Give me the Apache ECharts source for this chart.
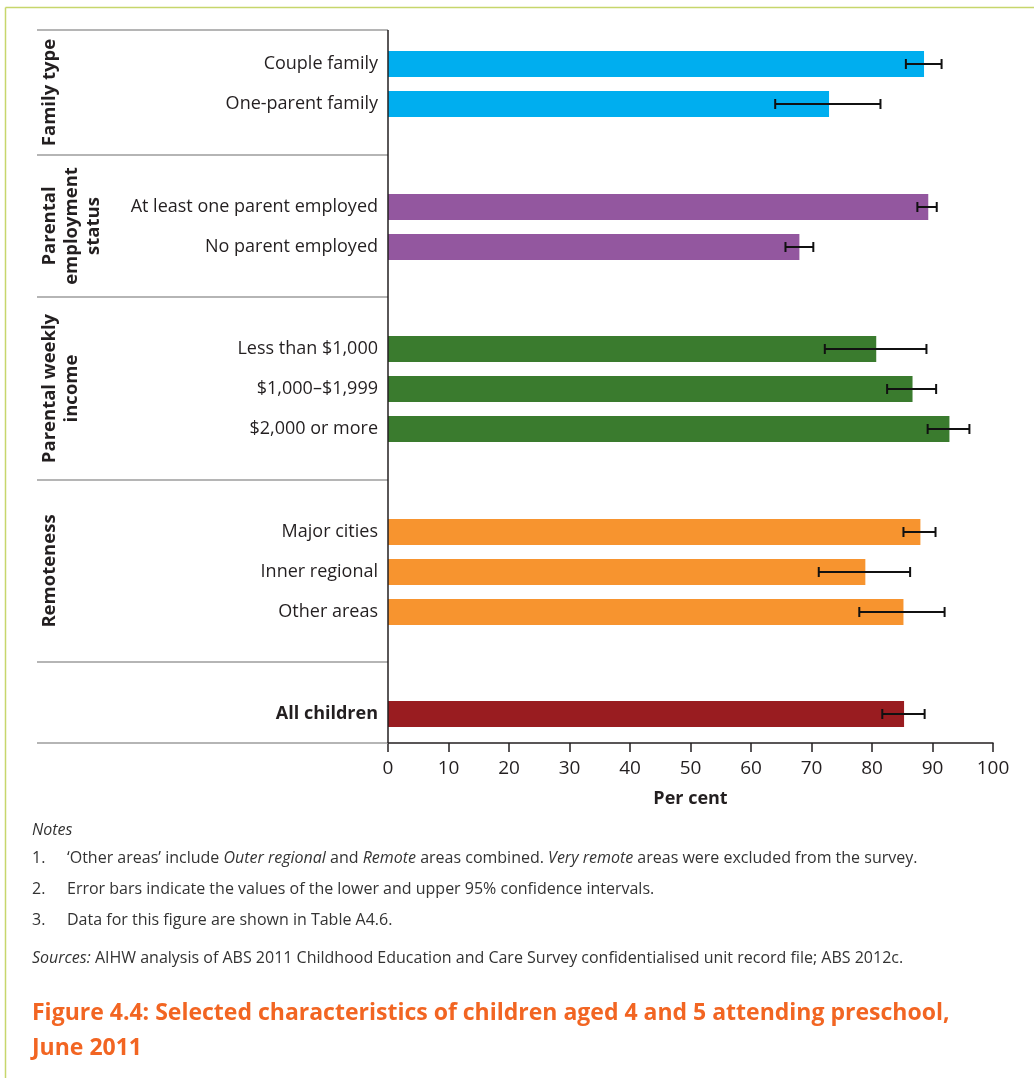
<!DOCTYPE html>
<html>
<head>
<meta charset="utf-8">
<script src="https://cdn.jsdelivr.net/npm/echarts@6/dist/echarts.min.js"></script>
<style>
  html, body { margin: 0; padding: 0; background: #ffffff; }
  #chart { width: 1034px; height: 1078px; }
</style>
</head>
<body>
<div id="chart"></div>
<script>
// ---- data ----
const labels = [
  'Couple family', 'One-parent family',
  'At least one parent employed', 'No parent employed',
  'Less than $1,000', '$1,000–$1,999', '$2,000 or more',
  'Major cities', 'Inner regional', 'Other areas',
  'All children'
];
const groupOf  = [0, 0, 1, 1, 2, 2, 2, 3, 3, 3, 4];
const percent  = [88.6, 72.9, 89.3, 68.0, 80.7, 86.7, 92.8, 88.0, 78.9, 85.2, 85.3];
const ciLower  = [85.6, 64.0, 87.5, 65.7, 72.2, 82.5, 89.2, 85.2, 71.2, 77.9, 81.7];
const ciUpper  = [91.5, 81.4, 90.7, 70.3, 89.0, 90.6, 96.1, 90.5, 86.3, 92.0, 88.7];
const groupTitles = ['Family type', 'Parental\nemployment\nstatus', 'Parental weekly\nincome', 'Remoteness', ''];
const groupColors = ['#00aeef', '#93579f', '#3a7b2e', '#f7942f', '#991c20'];
const xMin = 0, xMax = 100, xStep = 10;
const xTitle = 'Per cent';

const notesHeading = 'Notes';
const notes = [
  '‘Other areas’ include {i|Outer regional} and {i|Remote} areas combined. {i|Very remote} areas were excluded from the survey.',
  'Error bars indicate the values of the lower and upper 95% confidence intervals.',
  'Data for this figure are shown in Table A4.6.'
];
const sourcesText = '{i|Sources:} AIHW analysis of ABS 2011 Childhood Education and Care Survey confidentialised unit record file; ABS 2012c.';
const figureTitle = 'Figure 4.4: Selected characteristics of children aged 4 and 5 attending preschool,\nJune 2011';

// ---- layout ----
const FONT = "'Open Sans', sans-serif";
const TEXT = '#231f20';
const PLOT_LEFT = 388, PLOT_RIGHT = 993;
const bandEdges = [30, 155, 297, 480, 662, 743];
const firstRowOffset = [34, 52, 52, 52, 52];
const ROW = 40;
const AXIS_Y = bandEdges[bandEdges.length - 1];

const nGroups = groupTitles.length;
const grids = [], xAxes = [], yAxes = [], series = [];

for (let g = 0; g < nGroups; g++) {
  const idx = labels.map((_, i) => i).filter(i => groupOf[i] === g);
  const firstCenter = bandEdges[g] + firstRowOffset[g];
  let top = firstCenter - ROW / 2;
  let height = idx.length * ROW;
  const isLast = g === nGroups - 1;
  if (isLast) {
    top = 2 * firstCenter - AXIS_Y;
    height = AXIS_Y - top;
  }
  grids.push({ left: PLOT_LEFT, width: PLOT_RIGHT - PLOT_LEFT, top: top, height: height, containLabel: false });

  xAxes.push({
    gridIndex: g, type: 'value', min: xMin, max: xMax, interval: xStep,
    show: isLast,
    name: isLast ? xTitle : '',
    nameLocation: 'middle', nameGap: 47,
    nameTextStyle: { fontFamily: FONT, fontSize: 18, fontWeight: 'bold', color: TEXT },
    axisLine: { show: true, lineStyle: { color: '#231f20', width: 1.5 } },
    axisTick: { show: true, length: 9, lineStyle: { color: '#231f20', width: 1.5 } },
    axisLabel: { fontFamily: FONT, fontSize: 19, color: TEXT, margin: 16 },
    splitLine: { show: false }
  });

  yAxes.push({
    gridIndex: g, type: 'category', inverse: true,
    data: idx.map(i => labels[i]),
    axisLine: { show: false }, axisTick: { show: false },
    axisLabel: {
      fontFamily: FONT, fontSize: 18, color: TEXT, margin: 10,
      fontWeight: isLast ? 'bold' : 'normal'
    }
  });

  series.push({
    type: 'bar', xAxisIndex: g, yAxisIndex: g, barWidth: 26,
    itemStyle: { color: groupColors[g] },
    data: idx.map(i => percent[i]),
    silent: true, animation: false
  });

  series.push({
    type: 'custom', xAxisIndex: g, yAxisIndex: g, z: 5,
    encode: { y: 0, x: [1, 2] },
    data: idx.map((i, k) => [k, ciLower[i], ciUpper[i]]),
    animation: false, silent: true,
    renderItem: function (params, api) {
      const row = api.value(0);
      const lo = api.coord([api.value(1), row]);
      const hi = api.coord([api.value(2), row]);
      const cap = 5;
      const st = { stroke: '#111111', lineWidth: 2 };
      return {
        type: 'group',
        children: [
          { type: 'line', shape: { x1: lo[0], y1: lo[1], x2: hi[0], y2: hi[1] }, style: st },
          { type: 'line', shape: { x1: lo[0], y1: lo[1] - cap, x2: lo[0], y2: lo[1] + cap }, style: st },
          { type: 'line', shape: { x1: hi[0], y1: hi[1] - cap, x2: hi[0], y2: hi[1] + cap }, style: st }
        ]
      };
    }
  });
}

// ---- frame, separators, group titles and notes ----
const graphics = [];
const FRAME = '#c7d66c';
graphics.push({ type: 'line', shape: { x1: 5.5, y1: 7.5, x2: 1034, y2: 7.5 }, style: { stroke: FRAME, lineWidth: 1.5 } });
graphics.push({ type: 'line', shape: { x1: 5.5, y1: 7.5, x2: 5.5, y2: 1078 }, style: { stroke: FRAME, lineWidth: 1.5 } });

bandEdges.forEach(y => {
  graphics.push({ type: 'line', z: 1, shape: { x1: 37, y1: y, x2: PLOT_LEFT, y2: y }, style: { stroke: '#9d9d9d', lineWidth: 1.5 } });
});
graphics.push({ type: 'line', z: 10, shape: { x1: PLOT_LEFT, y1: bandEdges[0], x2: PLOT_LEFT, y2: AXIS_Y }, style: { stroke: '#231f20', lineWidth: 1.5 } });

groupTitles.forEach((t, g) => {
  if (!t) return;
  graphics.push({
    type: 'text', x: 39, y: (bandEdges[g] + bandEdges[g + 1]) / 2, rotation: Math.PI / 2,
    style: {
      text: t, fontFamily: FONT, fontSize: 18.5, fontWeight: 'bold', fill: TEXT,
      align: 'center', verticalAlign: 'top', lineHeight: 22
    }
  });
});

const NOTE_SIZE = 16;
const NOTE_STYLE = { fontFamily: FONT, fontSize: NOTE_SIZE, fill: '#333333' };
const richNote = { i: { fontFamily: FONT, fontSize: NOTE_SIZE, fontStyle: 'italic', fill: '#333333' } };
graphics.push({ type: 'text', x: 32, y: 830, style: Object.assign({}, NOTE_STYLE, { text: notesHeading, fontStyle: 'italic', verticalAlign: 'middle' }) });
notes.forEach((n, k) => {
  const y = 858 + k * 31;
  graphics.push({ type: 'text', x: 32, y: y, style: Object.assign({}, NOTE_STYLE, { text: (k + 1) + '.', verticalAlign: 'middle' }) });
  graphics.push({ type: 'text', x: 67, y: y, style: Object.assign({}, NOTE_STYLE, { text: n, rich: richNote, verticalAlign: 'middle' }) });
});
graphics.push({ type: 'text', x: 32, y: 958, style: Object.assign({}, NOTE_STYLE, { text: sourcesText, rich: richNote, verticalAlign: 'middle' }) });
graphics.push({
  type: 'text', x: 32, y: 996,
  style: { text: figureTitle, fontFamily: FONT, fontSize: 23, fontWeight: 'bold', fill: '#f26522', verticalAlign: 'top', lineHeight: 35 }
});

const chart = echarts.init(document.getElementById('chart'), null, { renderer: 'canvas' });
chart.setOption({
  animation: false,
  backgroundColor: '#ffffff',
  grid: grids,
  xAxis: xAxes,
  yAxis: yAxes,
  series: series,
  graphic: { elements: graphics }
});
</script>
</body>
</html>
